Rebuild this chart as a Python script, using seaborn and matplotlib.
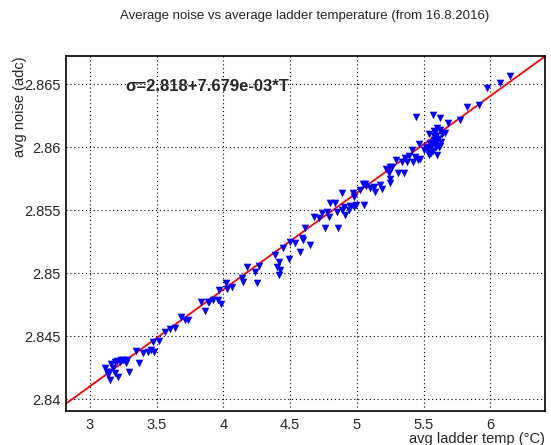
import numpy as np
import pandas as pd
import matplotlib
matplotlib.use("Agg")
import matplotlib.pyplot as plt
from matplotlib.ticker import MultipleLocator
import seaborn as sns

# average ladder temperature (C) and average noise (adc)
temp = [3.11, 3.13, 3.15, 3.135, 3.17, 3.19, 3.21, 3.225, 3.25, 3.28,
        3.29, 3.16, 3.20, 3.14, 3.23, 3.27, 3.19, 3.345, 3.37, 3.40,
        3.435, 3.455, 3.47, 3.48, 3.52, 3.565, 3.60, 3.64, 3.68, 3.71,
        3.735, 3.83, 3.86, 3.885, 3.98, 3.895, 3.925, 3.962, 3.97, 4.02,
        4.025, 4.063, 4.138, 4.15, 4.175, 4.238, 4.25, 4.263, 4.388, 4.40,
        4.413, 4.413, 4.425, 4.445, 4.488, 4.50, 4.538, 4.575, 4.588, 4.60,
        4.613, 4.65, 4.675, 4.713, 4.738, 4.763, 4.775, 4.788, 4.795, 4.838,
        4.85, 4.855, 4.888, 4.888, 4.90, 4.913, 4.938, 4.95, 4.975, 4.97,
        4.975, 4.995, 5.025, 5.046, 5.05, 5.063, 5.071, 5.10, 5.125, 5.138,
        5.176, 5.188, 5.221, 5.238, 5.245, 5.251, 5.245, 5.263, 5.296, 5.305,
        5.338, 5.356, 5.363, 5.388, 5.376, 5.413, 5.421, 5.438, 5.446, 5.455,
        5.463, 5.476, 5.50, 5.521, 5.531, 5.538, 5.538, 5.546, 5.551, 5.556,
        5.563, 5.571, 5.575, 5.581, 5.588, 5.596, 5.605, 5.613, 5.621, 5.626,
        5.631, 5.638, 5.663, 5.68, 5.57, 5.59, 5.60, 5.55, 5.62, 5.58,
        5.61, 5.588, 5.60, 5.776, 5.826, 5.913, 5.976, 6.076, 6.146]
noise = [2.84248, 2.84217, 2.84153, 2.84193, 2.84248, 2.84296, 2.84177, 2.84296, 2.84312, 2.84312,
         2.84217, 2.84280, 2.84300, 2.84220, 2.84310, 2.84290, 2.84210, 2.84383, 2.84288, 2.84367,
         2.84375, 2.84391, 2.84455, 2.84375, 2.84463, 2.84535, 2.84558, 2.84566, 2.84653, 2.84629,
         2.84629, 2.84772, 2.84701, 2.84772, 2.84756, 2.84775, 2.84788, 2.84788, 2.84867, 2.84925,
         2.84873, 2.84889, 2.84960, 2.84933, 2.85052, 2.85013, 2.84925, 2.85058, 2.85148, 2.85052,
         2.85092, 2.84987, 2.85026, 2.85203, 2.85111, 2.85251, 2.85238, 2.85171, 2.85278, 2.85264,
         2.85357, 2.85225, 2.85449, 2.85437, 2.85476, 2.85357, 2.85489, 2.85449, 2.85560, 2.85560,
         2.85489, 2.85357, 2.85502, 2.85640, 2.85529, 2.85463, 2.85502, 2.85534, 2.85524, 2.85640,
         2.85608, 2.85545, 2.85661, 2.85709, 2.85542, 2.85709, 2.85693, 2.85681, 2.85683, 2.85648,
         2.85701, 2.85667, 2.85825, 2.85794, 2.85846, 2.85746, 2.85714, 2.85841, 2.85899, 2.85794,
         2.85886, 2.85798, 2.85913, 2.85931, 2.85886, 2.85979, 2.85886, 2.85921, 2.86243, 2.85899,
         2.86026, 2.85905, 2.85979, 2.86000, 2.85973, 2.85939, 2.86106, 2.86037, 2.85992, 2.85957,
         2.86018, 2.86256, 2.86058, 2.86132, 2.86032, 2.86090, 2.86063, 2.86005, 2.86137, 2.86230,
         2.86044, 2.86106, 2.86111, 2.86190, 2.85970, 2.86000, 2.85940, 2.86030, 2.86010, 2.86090,
         2.86070, 2.86124, 2.86150, 2.86217, 2.86317, 2.86336, 2.86468, 2.86513, 2.86568]

# fit result shown on the plot
fit_p0 = 2.818
fit_p1 = 7.679e-3

x_range = [2.82, 6.41]
y_range = [2.83907, 2.86725]

df = pd.DataFrame({"temp": temp, "noise": noise})
fit_x = np.array(x_range)
fit_df = pd.DataFrame({"temp": fit_x, "noise": fit_p0 + fit_p1 * fit_x})

sns.set_style("white")
plt.rcParams['font.family'] = ['Liberation Sans', 'DejaVu Sans']

fig = plt.figure(figsize=(5.51, 4.45), dpi=100)
ax = fig.add_axes([66 / 551, 34 / 445, 479 / 551, 355 / 445])

sns.lineplot(data=fit_df, x="temp", y="noise", color="red", linewidth=1.3, ax=ax, zorder=2)
sns.scatterplot(data=df, x="temp", y="noise", marker="v", color="blue", s=30,
                edgecolor="blue", linewidth=0, ax=ax, zorder=3)

ax.set_xlim(x_range)
ax.set_ylim(y_range)

ax.xaxis.set_minor_locator(MultipleLocator(0.1))
ax.yaxis.set_minor_locator(MultipleLocator(0.001))
ax.set_xticks([3, 3.5, 4, 4.5, 5, 5.5, 6])
ax.set_xticklabels(["3", "3.5", "4", "4.5", "5", "5.5", "6"])
ax.set_yticks([2.84, 2.845, 2.85, 2.855, 2.86, 2.865])
ax.set_yticklabels(["2.84", "2.845", "2.85", "2.855", "2.86", "2.865"])

ax.tick_params(which="major", direction="in", length=12, width=1, labelsize=10.5,
               color="black", top=False, right=False, pad=4)
ax.tick_params(which="minor", direction="in", length=6, width=1, color="black",
               top=False, right=False)
ax.tick_params(axis="x", which="major", pad=5)

ax.grid(True, which="major", color="black", linestyle=(0, (1, 2.5)), linewidth=0.8)
for sp in ax.spines.values():
    sp.set_color("black")
    sp.set_linewidth(1.2)

ax.set_xlabel("avg ladder temp (°C)", fontsize=10.5, loc="right")
ax.set_ylabel("avg noise (adc)", fontsize=10.5, loc="top")
ax.xaxis.set_label_coords(1.0, -0.058)
ax.yaxis.set_label_coords(-0.082, 1.0)

ax.text(0.125, 0.913, "σ=2.818+7.679e-03*T", transform=ax.transAxes,
        fontsize=12, fontweight="bold", va="center", ha="left")

fig.text(305 / 551, 1 - 16 / 445, "Average noise vs average ladder temperature (from 16.8.2016)",
         fontsize=9.5, ha="center", va="center")

fig.savefig("out.png", dpi=100)
